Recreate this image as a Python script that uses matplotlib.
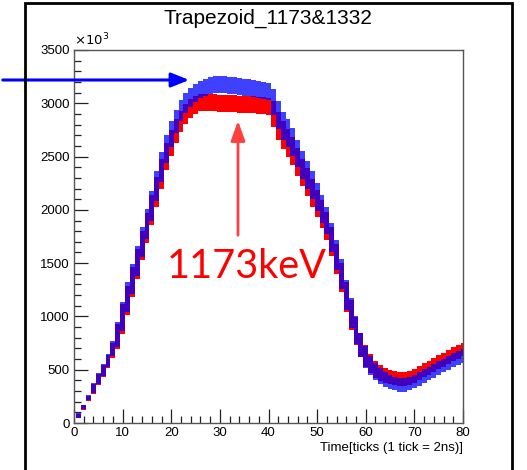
import matplotlib
matplotlib.use("Agg")
import matplotlib.pyplot as plt
from matplotlib.patches import Rectangle, FancyArrowPatch
from matplotlib.ticker import MultipleLocator

# sample index (ticks) and the band (values in 10^3)
ticks = list(range(1, 81))

blue_mid = [70, 150, 240, 330, 420, 500, 590, 700, 830, 1000,
            1180, 1350, 1520, 1700, 1870, 2040, 2220, 2400, 2570, 2710,
            2830, 2930, 3000, 3055, 3095, 3125, 3150, 3165, 3175, 3175,
            3175, 3170, 3165, 3160, 3150, 3145, 3135, 3130, 3120, 3110,
            3010, 2890, 2790, 2720, 2640, 2530, 2420, 2330, 2230, 2120,
            2010, 1900, 1740, 1580, 1400, 1200, 1030, 870, 730, 620,
            540, 480, 440, 410, 385, 370, 360, 360, 370, 390,
            415, 440, 465, 490, 515, 540, 565, 590, 610, 630]

red_mid = [65, 145, 230, 320, 410, 490, 575, 680, 810, 975,
           1150, 1320, 1490, 1665, 1830, 1995, 2170, 2340, 2500, 2630,
           2740, 2830, 2900, 2950, 2985, 3005, 3010, 3010, 3005, 3000,
           3000, 2995, 2995, 2990, 2990, 2985, 2985, 2980, 2980, 2970,
           2900, 2790, 2700, 2630, 2550, 2450, 2350, 2260, 2160, 2060,
           1960, 1850, 1700, 1540, 1365, 1180, 1015, 860, 730, 630,
           560, 505, 470, 445, 430, 420, 415, 415, 425, 445,
           470, 495, 520, 545, 570, 595, 620, 645, 668, 690]

# half height of the point cloud at each tick
spread = [20, 20, 25, 45, 50, 55, 60, 70, 120, 140,
          140, 140, 140, 140, 140, 140, 140, 140, 130, 120,
          110, 100, 95, 90, 85, 80, 80, 80, 80, 80,
          80, 80, 80, 80, 80, 80, 80, 80, 80, 80,
          120, 130, 130, 130, 130, 130, 130, 130, 130, 130,
          130, 130, 135, 140, 140, 140, 140, 130, 110, 100,
          90, 80, 75, 70, 65, 65, 65, 65, 65, 65,
          65, 65, 65, 65, 65, 65, 65, 65, 65, 65]

title = "Trapezoid_1173&1332"
xlabel = "Time[ticks (1 tick = 2ns)]"
note = "1173keV"

plt.rcParams['font.family'] = ['Liberation Sans', 'DejaVu Sans']

W, H = 527, 470
fig = plt.figure(figsize=(W / 100, H / 100), dpi=100)
ax = fig.add_axes([74 / W, 1 - 423 / H, (463 - 74) / W, (423 - 50) / H])

red_lo = [m - s for m, s in zip(red_mid, spread)]
blue_lo = [m - s for m, s in zip(blue_mid, spread)]
band_h = [2 * s for s in spread]

ax.bar(ticks, band_h, bottom=red_lo, width=1.0, color='#ff0000', linewidth=0)
ax.bar(ticks, band_h, bottom=blue_lo, width=1.0, color='#0000ff', alpha=0.75, linewidth=0)

ax.set_xlim(0, 80)
ax.set_ylim(0, 3500)
ax.xaxis.set_major_locator(MultipleLocator(10))
ax.xaxis.set_minor_locator(MultipleLocator(2))
ax.yaxis.set_major_locator(MultipleLocator(500))
ax.yaxis.set_minor_locator(MultipleLocator(100))
ax.tick_params(which='both', direction='in', top=False, right=False,
               labelsize=9.5, color='#222222', width=0.9)
ax.tick_params(which='major', length=10, pad=3)
ax.tick_params(which='minor', length=5)
for s in ax.spines.values():
    s.set_color('#555555')
    s.set_linewidth(1.0)

ax.text(0, 1.004, r'$\times10^{3}$', transform=ax.transAxes, ha='left', va='bottom', fontsize=9.5)
ax.set_xlabel(xlabel, fontsize=9.5, loc='right', labelpad=2)

fig.text(268 / W, 1 - 18 / H, title, ha='center', va='center', fontsize=15)

# outer canvas border
fig.patches.append(Rectangle((25 / W, -0.02), (512 - 25) / W, 1.02 - 3 / H,
                             transform=fig.transFigure, fill=False,
                             edgecolor='black', linewidth=2))

# annotations
fig.add_artist(FancyArrowPatch(
    (0, 1 - 80 / H), (192 / W, 1 - 80 / H), transform=fig.transFigure,
    arrowstyle='-|>,head_length=0.9,head_width=0.36', mutation_scale=12,
    color='#0000ff', linewidth=2.2))
fig.add_artist(FancyArrowPatch(
    (238 / W, 1 - 238 / H), (238 / W, 1 - 118 / H), transform=fig.transFigure,
    arrowstyle='-|>,head_length=1.0,head_width=0.36', mutation_scale=12,
    color='#ff4040', linewidth=2.0))
fig.text(247 / W, 1 - 266 / H, note, ha='center', va='center', fontsize=28.5,
         color='#ff0000', family=['Lato', 'DejaVu Sans'])

fig.savefig("out.png", dpi=100)
